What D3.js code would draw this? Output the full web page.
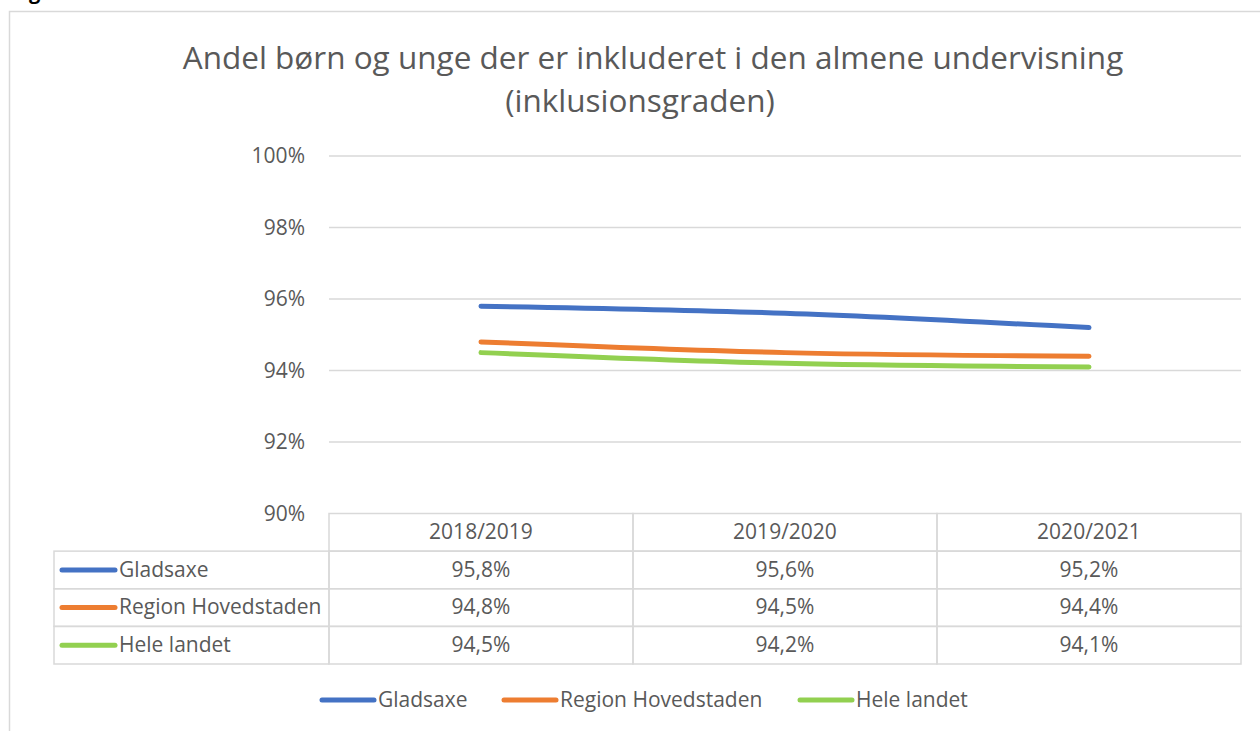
<!DOCTYPE html>
<html lang="da">
<head>
    <meta charset="UTF-8">
    <title>Inklusionsgraden</title>
    <script src="https://d3js.org/d3.v7.min.js"></script>
</head>
<style>
    body {
        margin: 0;
        background: #fff;
        font-family: 'Open Sans', sans-serif;
    }
    .grid line {
        stroke: #d9d9d9;
        stroke-width: 1.5;
    }
    .cell {
        stroke: #d9d9d9;
        stroke-width: 1.5;
    }
    text {
        fill: #595959;
    }
</style>
<body>
<script>
    // data
    const years = ["2018/2019", "2019/2020", "2020/2021"];
    const seriesNames = ["Gladsaxe", "Region Hovedstaden", "Hele landet"];
    const gladsaxe = [95.8, 95.6, 95.2];
    const regionH = [94.8, 94.5, 94.4];
    const heleLandet = [94.5, 94.2, 94.1];
    const yTicks = [90, 92, 94, 96, 98, 100];
    const colors = ["#4472C4", "#ED7D31", "#92D050"];

    const series = [gladsaxe, regionH, heleLandet].map((vals, i) => ({
        name: seriesNames[i],
        color: colors[i],
        values: vals
    }));

    const width = 1260, height = 731;
    const svg = d3.select("body").append("svg")
        .attr("width", width)
        .attr("height", height);

    // chart frame (runs off the page to the right and bottom)
    svg.append("rect")
        .attr("x", 9.5).attr("y", 11.5)
        .attr("width", 1400).attr("height", 900)
        .attr("fill", "none")
        .attr("stroke", "#d9d9d9")
        .attr("stroke-width", 1.5);

    // heading of the document above, mostly clipped
    svg.append("text")
        .attr("x", 12).attr("y", -1)
        .style("font-weight", "bold")
        .style("font-size", "20px")
        .style("fill", "#000")
        .text("Figur");

    // title
    const title = svg.append("g");
    title.append("text")
        .attr("x", 653).attr("y", 69)
        .attr("text-anchor", "middle")
        .style("font-size", "31.5px")
        .text("Andel børn og unge der er inkluderet i den almene undervisning");
    title.append("text")
        .attr("x", 640).attr("y", 112)
        .attr("text-anchor", "middle")
        .style("font-size", "31.5px")
        .text("(inklusionsgraden)");

    const plotLeft = 329, plotRight = 1241, plotTop = 156, plotBottom = 513.5;

    const x = d3.scaleBand()
        .domain(years)
        .range([plotLeft, plotRight]);

    const y = d3.scaleLinear()
        .domain([90, 100])
        .range([plotBottom, plotTop]);

    // gridlines
    const grid = svg.append("g").attr("class", "grid");
    grid.selectAll("line")
        .data(yTicks.filter(t => t > 90))
        .join("line")
        .attr("x1", plotLeft).attr("x2", plotRight)
        .attr("y1", d => y(d)).attr("y2", d => y(d));

    // y axis labels
    svg.append("g").selectAll("text")
        .data(yTicks)
        .join("text")
        .attr("x", 305)
        .attr("y", d => y(d) + 7)
        .attr("text-anchor", "end")
        .style("font-size", "21px")
        .text(d => d + "%");

    // lines (excel style smoothing)
    const line = d3.line()
        .x((d, i) => x(years[i]) + x.bandwidth() / 2)
        .y(d => y(d))
        .curve(d3.curveCardinal.tension(0));

    svg.append("g").selectAll("path")
        .data(series)
        .join("path")
        .attr("d", d => line(d.values))
        .attr("fill", "none")
        .attr("stroke", d => d.color)
        .attr("stroke-width", 5)
        .attr("stroke-linecap", "round")
        .attr("stroke-linejoin", "round");

    // data table
    const da = d3.formatLocale({ decimal: ",", thousands: ".", grouping: [3], currency: ["", " kr."] });
    const fmt = v => da.format(".1f")(v) + "%";

    const tableLeft = 54;
    const rowH = (664 - 513.5) / 4;
    const table = svg.append("g");

    // header cells
    years.forEach(yr => {
        table.append("rect").attr("class", "cell")
            .attr("x", x(yr)).attr("y", plotBottom)
            .attr("width", x.bandwidth()).attr("height", rowH)
            .attr("fill", "none");
        table.append("text")
            .attr("x", x(yr) + x.bandwidth() / 2)
            .attr("y", plotBottom + rowH - 12)
            .attr("text-anchor", "middle")
            .style("font-size", "21px")
            .text(yr);
    });

    series.forEach((s, r) => {
        const top = plotBottom + rowH * (r + 1);
        table.append("rect").attr("class", "cell")
            .attr("x", tableLeft).attr("y", top)
            .attr("width", plotLeft - tableLeft).attr("height", rowH)
            .attr("fill", "none");
        table.append("line")
            .attr("x1", 62).attr("x2", 115)
            .attr("y1", top + rowH / 2).attr("y2", top + rowH / 2)
            .attr("stroke", s.color)
            .attr("stroke-width", 5)
            .attr("stroke-linecap", "round");
        table.append("text")
            .attr("x", 119)
            .attr("y", top + rowH - 12)
            .style("font-size", "21px")
            .text(s.name);
        s.values.forEach((v, i) => {
            table.append("rect").attr("class", "cell")
                .attr("x", x(years[i])).attr("y", top)
                .attr("width", x.bandwidth()).attr("height", rowH)
                .attr("fill", "none");
            table.append("text")
                .attr("x", x(years[i]) + x.bandwidth() / 2)
                .attr("y", top + rowH - 12)
                .attr("text-anchor", "middle")
                .style("font-size", "21px")
                .text(fmt(v));
        });
    });

    // legend
    const legendX = [320, 502, 798];
    const legend = svg.append("g").selectAll("g")
        .data(series)
        .join("g")
        .attr("transform", (d, i) => `translate(${legendX[i]}, 700)`);
    legend.append("line")
        .attr("x1", 2).attr("x2", 54)
        .attr("stroke", d => d.color)
        .attr("stroke-width", 5)
        .attr("stroke-linecap", "round");
    legend.append("text")
        .attr("x", 58)
        .attr("y", 7)
        .style("font-size", "21px")
        .text(d => d.name);
</script>
</body>
</html>
